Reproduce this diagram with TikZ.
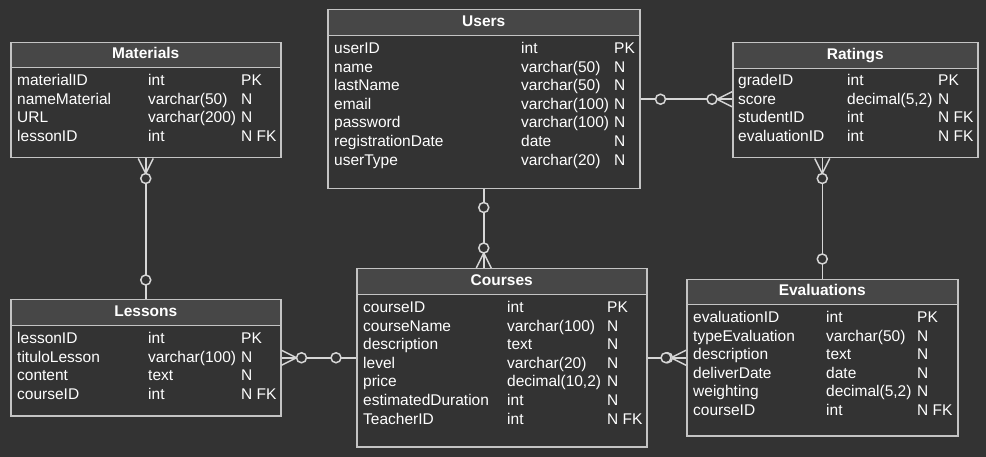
\documentclass[tikz,border=0pt]{standalone}
\usepackage{fontspec}
\setmainfont{Liberation Sans}
\usetikzlibrary{calc}
\definecolor{bg}{HTML}{333333}
\definecolor{hd}{HTML}{474747}
\definecolor{bd}{HTML}{C4C4C4}
\definecolor{ln}{HTML}{D6D6D6}
\newcommand\fsz{\fontsize{15.5pt}{18pt}\selectfont}
\begin{document}
\begin{tikzpicture}[x=1pt,y=-1pt,
  tbox/.style={draw=bd, line width=1.5pt, fill=bg, rectangle, inner sep=0pt, anchor=north west},
  thead/.style={draw=bd, line width=1.5pt, fill=hd, rectangle, inner sep=0pt, anchor=north west, text=white, font=\fsz\bfseries, text height=11pt, text depth=4pt},
  cell/.style={anchor=base west, inner sep=0pt, text=white, font=\fsz},
  conn/.style={draw=ln, line width=1.5pt},
  circ/.style={draw=ln, fill=bg, line width=1.5pt}]
\fill[bg] (0,0) rectangle (986,457);
\useasboundingbox (0,0) rectangle (986,457);

% Users
\node[tbox, minimum width=312pt, minimum height=179pt] (users) at (327,9) {};
\node[thead, minimum width=312pt, minimum height=26pt] (usersH) at (327,9) {Users};
\foreach \a/\b/\c [count=\i from 0] in {userID/int/PK, name/varchar(50)/N, lastName/varchar(50)/N, email/varchar(100)/N, password/varchar(100)/N, registrationDate/date/N, userType/varchar(20)/N} {
  \node[cell] (users-a\i) at (334,53.5+18.6*\i) {\a};
  \node[cell] (users-b\i) at (521,53.5+18.6*\i) {\b};
  \node[cell] (users-c\i) at (614,53.5+18.6*\i) {\c};
}

% Materials
\node[tbox, minimum width=270pt, minimum height=115pt] (materials) at (10,42) {};
\node[thead, minimum width=270pt, minimum height=25pt] (materialsH) at (10,42) {Materials};
\foreach \a/\b/\c [count=\i from 0] in {materialID/int/PK, nameMaterial/varchar(50)/N, URL/varchar(200)/N, lessonID/int/N FK} {
  \node[cell] (materials-a\i) at (17,85.5+18.6*\i) {\a};
  \node[cell] (materials-b\i) at (148,85.5+18.6*\i) {\b};
  \node[cell] (materials-c\i) at (241,85.5+18.6*\i) {\c};
}

% Ratings
\node[tbox, minimum width=245pt, minimum height=115pt] (ratings) at (732,42) {};
\node[thead, minimum width=245pt, minimum height=26pt] (ratingsH) at (732,42) {Ratings};
\foreach \a/\b/\c [count=\i from 0] in {gradeID/int/PK, score/{decimal(5,2)}/N, studentID/int/N FK, evaluationID/int/N FK} {
  \node[cell] (ratings-a\i) at (738,85.5+18.6*\i) {\a};
  \node[cell] (ratings-b\i) at (847,85.5+18.6*\i) {\b};
  \node[cell] (ratings-c\i) at (938,85.5+18.6*\i) {\c};
}

% Lessons
\node[tbox, minimum width=270pt, minimum height=116pt] (lessons) at (10,299) {};
\node[thead, minimum width=270pt, minimum height=26pt] (lessonsH) at (10,299) {Lessons};
\foreach \a/\b/\c [count=\i from 0] in {lessonID/int/PK, tituloLesson/varchar(100)/N, content/text/N, courseID/int/N FK} {
  \node[cell] (lessons-a\i) at (17,343.5+18.6*\i) {\a};
  \node[cell] (lessons-b\i) at (148,343.5+18.6*\i) {\b};
  \node[cell] (lessons-c\i) at (241,343.5+18.6*\i) {\c};
}

% Courses
\node[tbox, minimum width=290pt, minimum height=178pt] (courses) at (356,268) {};
\node[thead, minimum width=290pt, minimum height=26pt] (coursesH) at (356,268) {Courses};
\foreach \a/\b/\c [count=\i from 0] in {courseID/int/PK, courseName/varchar(100)/N, description/text/N, level/varchar(20)/N, price/{decimal(10,2)}/N, estimatedDuration/int/N, TeacherID/int/N FK} {
  \node[cell] (courses-a\i) at (363,312.5+18.6*\i) {\a};
  \node[cell] (courses-b\i) at (507,312.5+18.6*\i) {\b};
  \node[cell] (courses-c\i) at (607,312.5+18.6*\i) {\c};
}

% Evaluations
\node[tbox, minimum width=271pt, minimum height=156pt] (evaluations) at (686,279) {};
\node[thead, minimum width=271pt, minimum height=25pt] (evaluationsH) at (686,279) {Evaluations};
\foreach \a/\b/\c [count=\i from 0] in {evaluationID/int/PK, typeEvaluation/varchar(50)/N, description/text/N, deliverDate/date/N, weighting/{decimal(5,2)}/N, courseID/int/N FK} {
  \node[cell] (evaluations-a\i) at (693,322.5+18.6*\i) {\a};
  \node[cell] (evaluations-b\i) at (826,322.5+18.6*\i) {\b};
  \node[cell] (evaluations-c\i) at (917,322.5+18.6*\i) {\c};
}

% Users -- Ratings
\coordinate (ur) at (users.east -| ratings.west);
\draw[conn] (users.east) -- (ur);
\draw[conn] ($(ur)+(0,-7.5)$) -- ($(ur)+(-15,0)$) -- ($(ur)+(0,7.5)$);
\draw[circ] ($(users.east)+(20,0)$) circle[radius=5pt];
\draw[circ] ($(ur)+(-20,0)$) circle[radius=5pt];

% Users -- Courses
\coordinate (uc) at (users.south |- courses.north);
\draw[conn] (users.south) -- (uc);
\draw[conn] ($(uc)+(-7.5,0)$) -- ($(uc)+(0,-15)$) -- ($(uc)+(7.5,0)$);
\draw[circ] ($(users.south)+(0,18)$) circle[radius=5pt];
\draw[circ] ($(uc)+(0,-20)$) circle[radius=5pt];

% Materials -- Lessons
\draw[conn] (materials.south) -- (lessons.north);
\draw[conn] ($(materials.south)+(-7.5,0)$) -- ($(materials.south)+(0,15)$) -- ($(materials.south)+(7.5,0)$);
\draw[circ] ($(materials.south)+(0,20)$) circle[radius=5pt];
\draw[circ] ($(lessons.north)+(0,-19)$) circle[radius=5pt];

% Lessons -- Courses
\coordinate (lc) at (lessons.east -| courses.west);
\draw[conn] (lessons.east) -- (lc);
\draw[conn] ($(lessons.east)+(0,-7.5)$) -- ($(lessons.east)+(15,0)$) -- ($(lessons.east)+(0,7.5)$);
\draw[circ] ($(lessons.east)+(20,0)$) circle[radius=5pt];
\draw[circ] ($(lc)+(-20,0)$) circle[radius=5pt];

% Ratings -- Evaluations
\coordinate (re) at (evaluations.north |- ratings.south);
\draw[conn] (re) -- (evaluations.north);
\draw[conn] ($(re)+(-7.5,0)$) -- ($(re)+(0,15)$) -- ($(re)+(7.5,0)$);
\draw[circ] ($(re)+(0,20)$) circle[radius=5pt];
\draw[circ] ($(evaluations.north)+(0,-20)$) circle[radius=5pt];

% Courses -- Evaluations
\coordinate (ce) at (evaluations.west -| courses.east);
\draw[conn] (ce) -- (evaluations.west);
\draw[conn] ($(evaluations.west)+(0,-7.5)$) -- ($(evaluations.west)+(-15,0)$) -- ($(evaluations.west)+(0,7.5)$);
\draw[circ] ($(ce)+(20,0)$) circle[radius=5pt];
\draw[circ] ($(evaluations.west)+(-20,0)$) circle[radius=5pt];
\end{tikzpicture}
\end{document}
